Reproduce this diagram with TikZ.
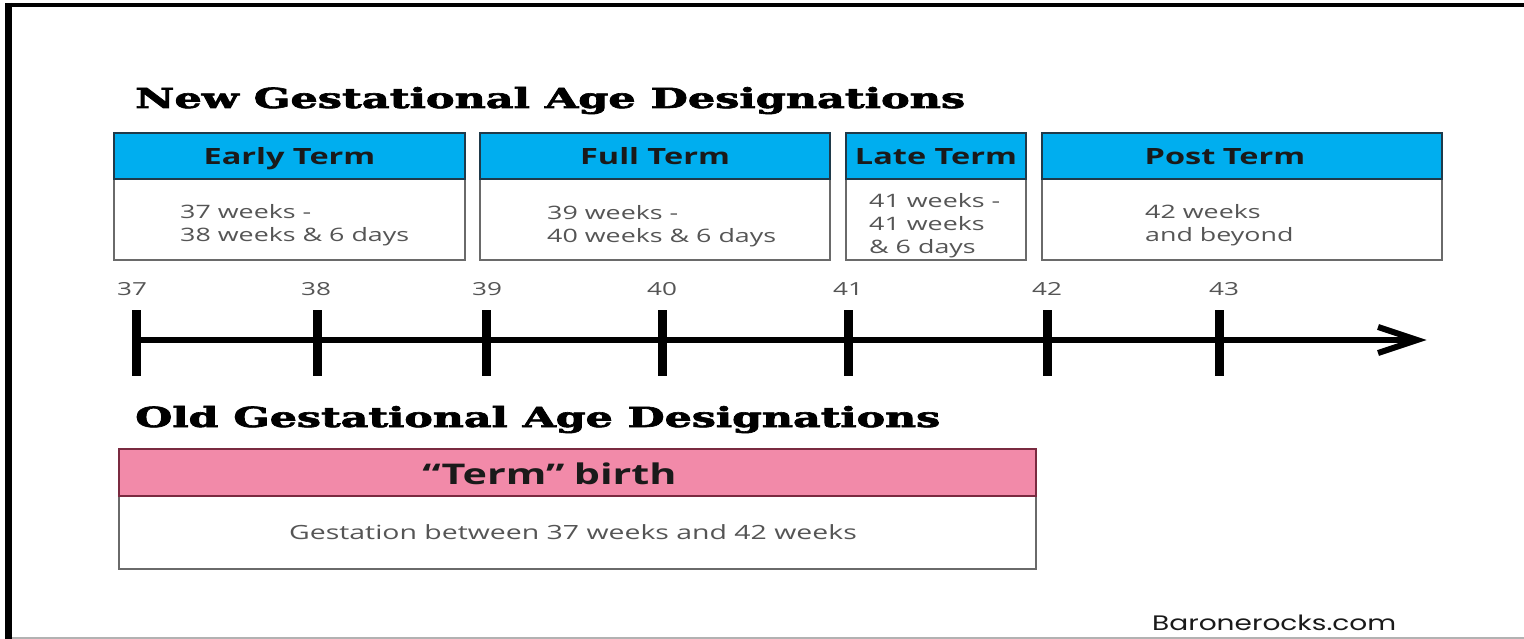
\documentclass[tikz,border=0pt]{standalone}
\usepackage{fontspec}
\usepackage{graphicx}
\newfontfamily\osans{Open Sans}[FakeStretch=1.45]
\newfontfamily\ttlfont{DejaVu Serif}[BoldFeatures={FakeBold=2.2}]
\newfontfamily\wmfont{Poppins}
\definecolor{termblue}{HTML}{00AEEF}
\definecolor{termpink}{HTML}{F28AA9}
\definecolor{hdrline}{HTML}{1F3A4A}
\definecolor{pinkline}{HTML}{7A2A40}
\definecolor{boxline}{HTML}{6A6A6A}
\definecolor{bodygray}{HTML}{555555}
\definecolor{hdrtext}{HTML}{1A1A1A}
\definecolor{labelgray}{HTML}{555555}
\tikzset{
  hdr/.style={draw=hdrline, line width=1.5pt, fill=termblue, inner sep=0pt, text=hdrtext,
    text height=20pt, text depth=2pt,
    font=\osans\bfseries\fontsize{22.4}{26}\selectfont},
  bodybox/.style={draw=boxline, line width=2pt, fill=white, inner sep=0pt},
  bodytext/.style={anchor=west, align=left, inner sep=0pt, text=bodygray,
    font=\osans\fontsize{18.5}{23}\selectfont},
  ticklabel/.style={inner sep=0pt, text=labelgray, font=\osans\fontsize{18}{20}\selectfont},
  tickmark/.style={line width=9pt},
  axisline/.style={line width=6pt},
  titlenode/.style={anchor=base west, inner sep=0pt},
}
\begin{document}
\begin{tikzpicture}[x=1pt,y=-1pt]
\useasboundingbox (0,0) rectangle (1524,639);
% frame
\draw[black, line width=7pt] (8.5,3) -- (8.5,639);
\draw[black, line width=4pt] (5,5) -- (1524,5);
\draw[gray!60, line width=2pt] (12,638) -- (1524,638);

% titles
\node[titlenode] (t1) at (135,108) {\resizebox{830pt}{21pt}{\ttlfont\bfseries New Gestational Age Designations}};
\node[titlenode] (t2) at (135,427) {\resizebox{805pt}{21pt}{\ttlfont\bfseries Old Gestational Age Designations}};

% new designations
\node[bodybox, minimum width=351pt, minimum height=81pt] (eb) at (289.5,219.5) {};
\node[hdr, minimum width=351pt, minimum height=46pt] (eh) at (289.5,156) {Early Term};
\node[bodytext] (et) at (180,225.5) {37 weeks -\\38 weeks \& 6 days};

\node[bodybox, minimum width=350pt, minimum height=81pt] (fb) at (655,219.5) {};
\node[hdr, minimum width=350pt, minimum height=46pt] (fh) at (655,156) {Full Term};
\node[bodytext] (ft) at (547,226.5) {39 weeks -\\40 weeks \& 6 days};

\node[bodybox, minimum width=180pt, minimum height=81pt] (lb) at (936,219.5) {};
\node[hdr, minimum width=180pt, minimum height=46pt] (lh) at (936,156) {Late Term};
\node[bodytext] (lt) at (869,226) {41 weeks -\\41 weeks\\\& 6 days};

\node[bodybox, minimum width=400pt, minimum height=81pt] (pb) at (1242,219.5) {};
\node[hdr, minimum width=400pt, minimum height=46pt, text width=400pt, align=center] (ph) at (1242,156) {\hspace*{-34pt}Post Term};
\node[bodytext] (pt) at (1145,225.5) {42 weeks\\and beyond};

% axis
\coordinate (axL) at (133,340);
\coordinate (axR) at (1417,340);
\coordinate (chU) at (1378,327);
\coordinate (chD) at (1378,353);
\draw[axisline] (axL) -- (axR);
\draw[axisline, line join=miter] (chU) -- (axR) -- (chD);
\foreach \x/\lx/\w in {136/132/37, 317/316/38, 486/487/39, 662/662/40, 848/848/41, 1047/1047/42, 1219/1224/43}{
  \draw[tickmark] (\x,310) -- (\x,376);
  \node[ticklabel] (l\w) at (\lx,289) {\w};
}

% old designations
\node[bodybox, minimum width=917pt, minimum height=73pt, text=bodygray,
  font=\osans\fontsize{19.6}{23}\selectfont] (ob) at (577.5,532.5) {\hspace*{-9pt}Gestation between 37 weeks and 42 weeks};
\node[hdr, draw=pinkline, fill=termpink, minimum width=917pt, minimum height=47pt,
  text width=917pt, align=center, text height=25pt, text depth=2pt,
  font=\osans\bfseries\fontsize{28.5}{32}\selectfont] (oh) at (577.5,472.5) {\hspace*{-56pt}“Term” birth};

% watermark
\node[titlenode, text=hdrtext] (wm) at (1152,630) {\resizebox{244pt}{15.5pt}{\wmfont Baronerocks.com}};
\end{tikzpicture}
\end{document}
